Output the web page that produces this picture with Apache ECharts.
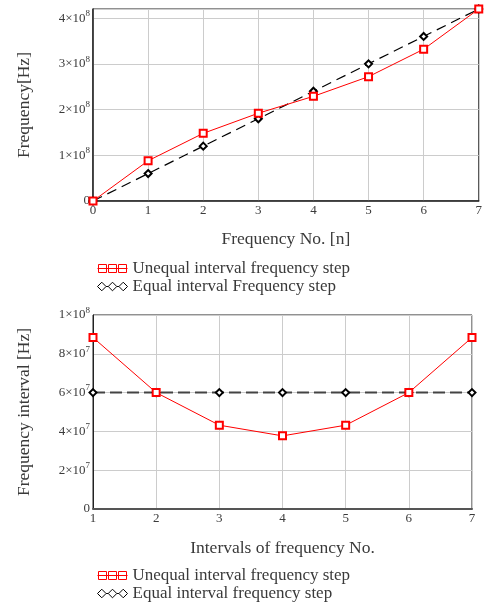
<!DOCTYPE html>
<html>
<head>
<meta charset="utf-8">
<script src="https://cdn.jsdelivr.net/npm/echarts@6/dist/echarts.min.js"></script>
<style>
  html, body { margin: 0; padding: 0; background: #fff; }
  #main { width: 485px; height: 603px; }
</style>
</head>
<body>
<div id="main"></div>
<script>
// top chart: cumulative frequency
var freqNo = [0, 1, 2, 3, 4, 5, 6, 7];
var unequalFreq = [0, 0.88e8, 1.48e8, 1.92e8, 2.29e8, 2.72e8, 3.32e8, 4.2e8];
var equalFreq = [0, 0.6e8, 1.2e8, 1.8e8, 2.4e8, 3.0e8, 3.6e8, 4.2e8];
// bottom chart: interval between frequencies
var intervalNo = [1, 2, 3, 4, 5, 6, 7];
var unequalStep = [8.84e7, 6.0e7, 4.32e7, 3.77e7, 4.32e7, 6.0e7, 8.84e7];
var equalStep = [6.0e7, 6.0e7, 6.0e7, 6.0e7, 6.0e7, 6.0e7, 6.0e7];

var FONT = "Liberation Serif";
var TXT = "#3a3a3a";

function pairs(xs, ys) {
  return xs.map(function (x, i) { return [x, ys[i]]; });
}
// 2x10^7 style tick labels
function sci(v) {
  if (v === 0) return "{m|0}";
  var e = Math.floor(Math.log10(v) + 1e-9);
  var m = Math.round(v / Math.pow(10, e) * 100) / 100;
  return "{m|" + m + "×10}{e|" + e + "}";
}
var richTick = {
  m: { fontFamily: FONT, fontSize: 13, color: TXT },
  e: { fontFamily: FONT, fontSize: 9, color: TXT, padding: [0, 0, 9, 0] }
};

var squaresIcon = "path://M0,5H30M1,1H9V9H1ZM11,1H19V9H11ZM21,1H29V9H21Z";
var diamondsIcon = "path://M1,5L5,1L9,5L5,9ZM11,5L15,1L19,5L15,9ZM21,5L25,1L29,5L25,9ZM9,5H11M19,5H21";

function legendItem(name, icon, color) {
  return { name: name, icon: icon, itemStyle: { color: "#fff", borderColor: color, borderWidth: 1 } };
}
function legendBox(top, names) {
  return {
    orient: "vertical", left: 92, top: top, height: 44, itemWidth: 30, itemHeight: 10, itemGap: 1,
    textStyle: { fontFamily: FONT, fontSize: 17, color: TXT },
    data: [
      legendItem(names[0], squaresIcon, "red"),
      legendItem(names[1], diamondsIcon, "#000")
    ]
  };
}

var chart = echarts.init(document.getElementById("main"));
chart.setOption({
  backgroundColor: "#fff",
  animation: false,
  grid: [
    { left: 93, top: 9, right: 4, height: 192, show: true, borderColor: "#222", borderWidth: 1 },
    { left: 93, top: 315, right: 13, height: 194, show: true, borderColor: "#222", borderWidth: 1 }
  ],
  legend: [
    legendBox(255, ["Unequal interval frequency step", "Equal interval Frequency step"]),
    legendBox(562, ["Unequal interval frequency step", "Equal interval frequency step"])
  ],
  xAxis: [
    {
      type: "value", gridIndex: 0, min: 0, max: 7, interval: 1,
      name: "Frequency No. [n]", nameLocation: "middle", nameGap: 29,
      nameTextStyle: { fontFamily: FONT, fontSize: 17.5, color: TXT },
      axisLine: { lineStyle: { color: "#222", width: 1.5 } },
      axisTick: { show: false },
      axisLabel: { fontFamily: FONT, fontSize: 13, color: TXT, margin: 3 },
      splitLine: { lineStyle: { color: "#ccc", width: 1 } }
    },
    {
      type: "value", gridIndex: 1, min: 1, max: 7, interval: 1,
      name: "Intervals of frequency No.", nameLocation: "middle", nameGap: 30,
      nameTextStyle: { fontFamily: FONT, fontSize: 17.5, color: TXT },
      axisLine: { lineStyle: { color: "#555", width: 2 } },
      axisTick: { show: false },
      axisLabel: { fontFamily: FONT, fontSize: 13, color: TXT, margin: 3 },
      splitLine: { lineStyle: { color: "#ccc", width: 1 } }
    }
  ],
  yAxis: [
    {
      type: "value", gridIndex: 0, min: 0, max: 4.2e8, interval: 1e8,
      name: "Frequency[Hz]", nameLocation: "middle", nameGap: 60,
      nameTextStyle: { fontFamily: FONT, fontSize: 17.5, color: TXT },
      axisLine: { lineStyle: { color: "#222", width: 1.5 } },
      axisTick: { show: false },
      axisLabel: { margin: 3, showMaxLabel: false, formatter: sci, rich: richTick },
      splitLine: { lineStyle: { color: "#ccc", width: 1 } }
    },
    {
      type: "value", gridIndex: 1, min: 0, max: 1e8, interval: 2e7,
      name: "Frequency interval [Hz]", nameLocation: "middle", nameGap: 60,
      nameTextStyle: { fontFamily: FONT, fontSize: 17.5, color: TXT },
      axisLine: { lineStyle: { color: "#222", width: 1 } },
      axisTick: { show: false },
      axisLabel: { margin: 3, formatter: sci, rich: richTick },
      splitLine: { lineStyle: { color: "#ccc", width: 1 } }
    }
  ],
  series: [
    {
      name: "Unequal interval frequency step", type: "line", xAxisIndex: 0, yAxisIndex: 0,
      data: pairs(freqNo, unequalFreq), clip: false,
      symbol: "emptyRect", symbolSize: 7,
      itemStyle: { color: "red", borderWidth: 1 },
      lineStyle: { color: "red", width: 1 }, z: 3
    },
    {
      name: "Equal interval Frequency step", type: "line", xAxisIndex: 0, yAxisIndex: 0,
      data: pairs(freqNo, equalFreq), clip: false,
      symbol: "emptyDiamond", symbolSize: 7,
      itemStyle: { color: "#000", borderWidth: 1 },
      lineStyle: { color: "#000", width: 1.2, type: [10, 6] }, z: 2
    },
    {
      name: "Unequal interval frequency step", type: "line", xAxisIndex: 1, yAxisIndex: 1,
      data: pairs(intervalNo, unequalStep), clip: false,
      symbol: "emptyRect", symbolSize: 7,
      itemStyle: { color: "red", borderWidth: 1 },
      lineStyle: { color: "red", width: 1 }, z: 3
    },
    {
      name: "Equal interval frequency step", type: "line", xAxisIndex: 1, yAxisIndex: 1,
      data: pairs(intervalNo, equalStep), clip: false,
      symbol: "emptyDiamond", symbolSize: 7,
      itemStyle: { color: "#000", borderWidth: 1.2 },
      lineStyle: { color: "#444", width: 2, type: [12, 5] }, z: 2
    }
  ]
});
</script>
</body>
</html>
